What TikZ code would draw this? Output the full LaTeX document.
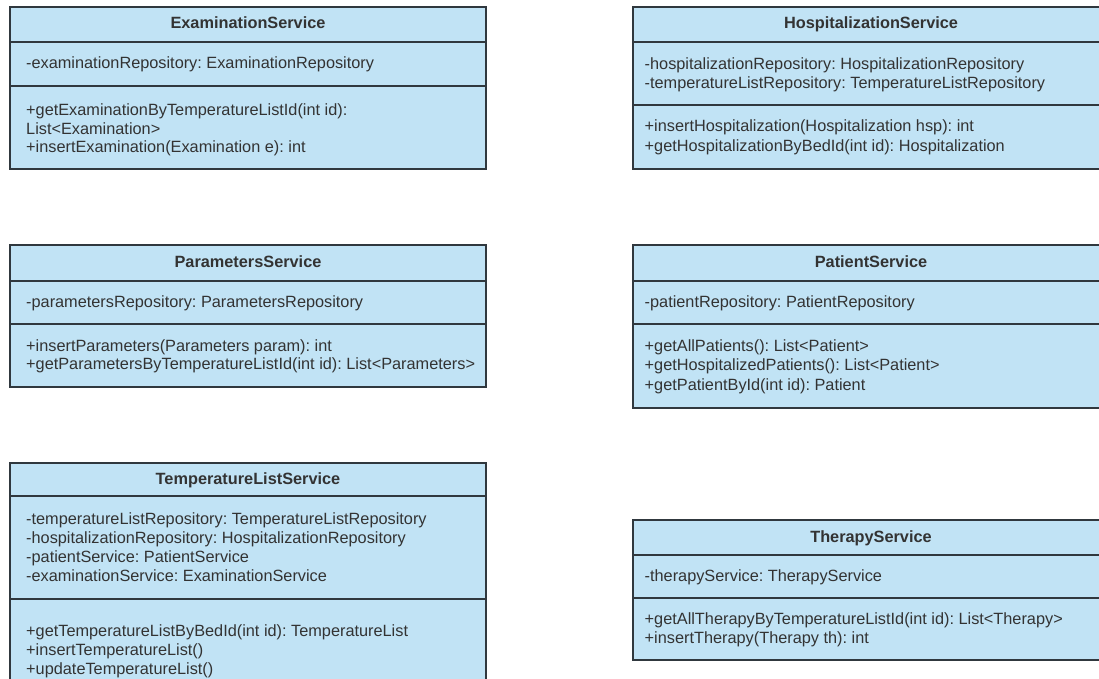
\documentclass[tikz,border=0pt]{standalone}
\usepackage{fontspec}
\setmainfont{Liberation Sans}
\frenchspacing
\definecolor{classfill}{RGB}{193,227,245}
\definecolor{classline}{RGB}{48,56,62}
\definecolor{classtext}{RGB}{51,51,51}
\tikzset{
  compartment/.style={draw=classline, fill=classfill, line width=1.8pt},
  member/.style={anchor=base west, inner sep=0pt, text=classtext,
    font=\fontsize{16.3}{19}\selectfont},
  classname/.style={anchor=base, inner sep=0pt, text=classtext,
    font=\fontsize{16.3}{19}\selectfont\bfseries},
}
\begin{document}
\begin{tikzpicture}[x=1pt,y=-1pt]
\useasboundingbox (0,0) rectangle (1099,679);
\clip (0,0) rectangle (1099,679);

% ---------- ExaminationService ----------
\path[compartment] (10,7) rectangle (486,42);
\path[compartment] (10,42) rectangle (486,86);
\path[compartment] (10,86) rectangle (486,169);
\node[classname] (ex-name) at (248,29) {ExaminationService};
\node[member] (ex-a1) at (26,69) {-examinationRepository: ExaminationRepository};
\node[member] (ex-m1) at (26,116) {+getExaminationByTemperatureListId(int id):};
\node[member] (ex-m1b) at (26,134.5) {List<Examination>};
\node[member] (ex-m2) at (26,153) {+insertExamination(Examination e): int};

% ---------- HospitalizationService ----------
\path[compartment] (633,7) rectangle (1109,42);
\path[compartment] (633,42) rectangle (1109,105);
\path[compartment] (633,105) rectangle (1109,169);
\node[classname] (ho-name) at (871,29) {HospitalizationService};
\node[member] (ho-a1) at (644.5,70) {-hospitalizationRepository: HospitalizationRepository};
\node[member] (ho-a2) at (644.5,89) {-temperatureListRepository: TemperatureListRepository};
\node[member] (ho-m1) at (644.5,132) {+insertHospitalization(Hospitalization hsp): int};
\node[member] (ho-m2) at (644.5,151.5) {+getHospitalizationByBedId(int id): Hospitalization};

% ---------- ParametersService ----------
\path[compartment] (10,245) rectangle (486,281);
\path[compartment] (10,281) rectangle (486,324);
\path[compartment] (10,324) rectangle (486,387);
\node[classname] (pa-name) at (248,267.5) {ParametersService};
\node[member] (pa-a1) at (26,307) {-parametersRepository: ParametersRepository};
\node[member] (pa-m1) at (26,351) {+insertParameters(Parameters param): int};
\node[member] (pa-m2) at (26,369.5) {+getParametersByTemperatureListId(int id): List<Parameters>};

% ---------- PatientService ----------
\path[compartment] (633,245) rectangle (1109,281);
\path[compartment] (633,281) rectangle (1109,324);
\path[compartment] (633,324) rectangle (1109,408);
\node[classname] (pt-name) at (871,267.5) {PatientService};
\node[member] (pt-a1) at (644.5,307) {-patientRepository: PatientRepository};
\node[member] (pt-m1) at (644.5,351) {+getAllPatients(): List<Patient>};
\node[member] (pt-m2) at (644.5,370.5) {+getHospitalizedPatients(): List<Patient>};
\node[member] (pt-m3) at (644.5,390) {+getPatientById(int id): Patient};

% ---------- TemperatureListService ----------
\path[compartment] (10,463) rectangle (486,496);
\path[compartment] (10,496) rectangle (486,599);
\path[compartment] (10,599) rectangle (486,691);
\node[classname] (tl-name) at (248,484) {TemperatureListService};
\node[member] (tl-a1) at (26,524) {-temperatureListRepository: TemperatureListRepository};
\node[member] (tl-a2) at (26,543.3) {-hospitalizationRepository: HospitalizationRepository};
\node[member] (tl-a3) at (26,562.6) {-patientService: PatientService};
\node[member] (tl-a4) at (26,581.9) {-examinationService: ExaminationService};
\node[member] (tl-m1) at (26,636) {+getTemperatureListByBedId(int id): TemperatureList};
\node[member] (tl-m2) at (26,655) {+insertTemperatureList()};
\node[member] (tl-m3) at (26,674) {+updateTemperatureList()};

% ---------- TherapyService ----------
\path[compartment] (633,520) rectangle (1109,555);
\path[compartment] (633,555) rectangle (1109,598);
\path[compartment] (633,598) rectangle (1109,660);
\node[classname] (th-name) at (871,542.5) {TherapyService};
\node[member] (th-a1) at (644.5,581) {-therapyService: TherapyService};
\node[member] (th-m1) at (644.5,624) {+getAllTherapyByTemperatureListId(int id): List<Therapy>};
\node[member] (th-m2) at (644.5,643) {+insertTherapy(Therapy th): int};
\end{tikzpicture}
\end{document}
